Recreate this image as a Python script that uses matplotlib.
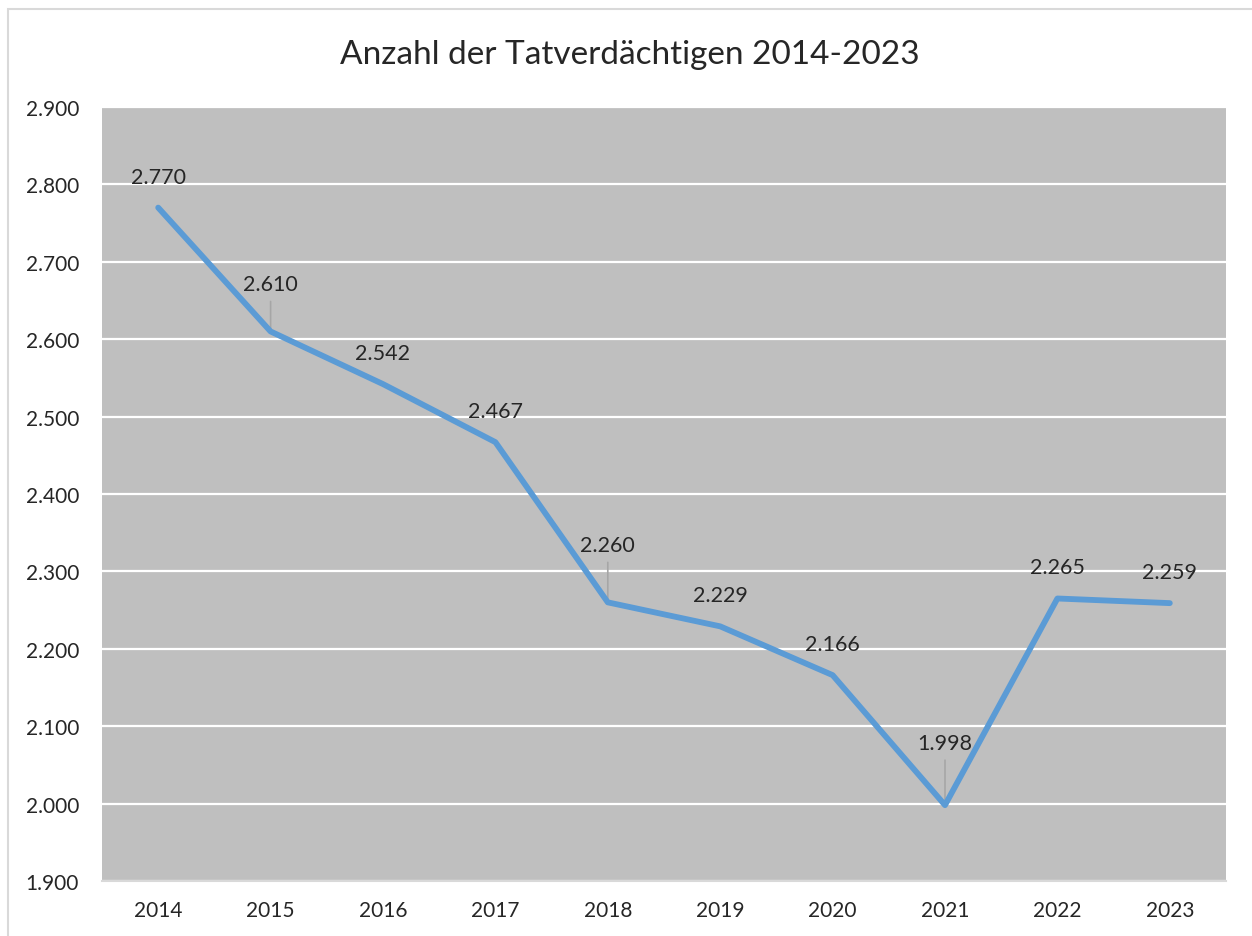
import matplotlib.pyplot as plt
from matplotlib.patches import Rectangle
from matplotlib.ticker import FuncFormatter

plt.rcParams['font.family'] = ['Lato', 'DejaVu Sans']

# Daten
jahre = ['2014', '2015', '2016', '2017', '2018', '2019', '2020', '2021', '2022', '2023']
tatverdaechtige = [2770, 2610, 2542, 2467, 2260, 2229, 2166, 1998, 2265, 2259]
# Abstand der Beschriftung über dem Punkt (Pixel); größer = mit Führungslinie
label_abstand = {'2015': 47, '2018': 57, '2021': 62}


def de_format(v, pos=None):
    return f"{int(round(v)):,}".replace(',', '.')


fig = plt.figure(figsize=(12.52, 9.37), dpi=100)
ax = fig.add_axes([102 / 1252, 1 - 882 / 937, 1124 / 1252, 774 / 937])

# Rahmen um das Diagramm
fig.patches.append(Rectangle((8 / 1252, -0.1), 1.2, 1 - 10 / 937 + 0.1,
                             transform=fig.transFigure, fill=False,
                             edgecolor='#D9D9D9', linewidth=1.5))

ax.set_facecolor('#BFBFBF')
x = list(range(len(jahre)))
ax.plot(x, tatverdaechtige, color='#5B9BD5', linewidth=4.2,
        solid_joinstyle='round', solid_capstyle='round', zorder=3)

for xi, jahr, wert in zip(x, jahre, tatverdaechtige):
    off = label_abstand.get(jahr, 31)
    if jahr in label_abstand:
        ax.annotate('', xy=(xi, wert), xytext=(0, off - 17), textcoords='offset pixels',
                    arrowprops=dict(arrowstyle='-', color='#A6A6A6', lw=1.2,
                                    shrinkA=0, shrinkB=0), zorder=2)
    ax.annotate(de_format(wert), xy=(xi, wert), xytext=(0, off),
                textcoords='offset pixels', ha='center', va='center',
                fontsize=15.5, color='#262626', zorder=4)

ax.set_xlim(-0.5, len(jahre) - 0.5)
ax.set_ylim(1900, 2900)
ax.set_yticks(range(1900, 2901, 100))
ax.yaxis.set_major_formatter(FuncFormatter(de_format))
ax.set_xticks(x)
ax.set_xticklabels(jahre)
ax.grid(axis='y', color='white', linewidth=1.6, zorder=1)
ax.set_axisbelow(True)
ax.tick_params(axis='both', length=0, labelsize=15, colors='#262626')
ax.tick_params(axis='y', pad=55)
ax.tick_params(axis='x', pad=14)
for lab in ax.get_yticklabels():
    lab.set_horizontalalignment('left')
for side in ['top', 'right', 'left']:
    ax.spines[side].set_visible(False)
ax.spines['bottom'].set_color('#D9D9D9')
ax.spines['bottom'].set_linewidth(1.5)

fig.text(630 / 1252, 1 - 55 / 937, 'Anzahl der Tatverdächtigen 2014-2023',
         ha='center', va='center', fontsize=24, color='#262626')

fig.savefig('out.png', dpi=100)
